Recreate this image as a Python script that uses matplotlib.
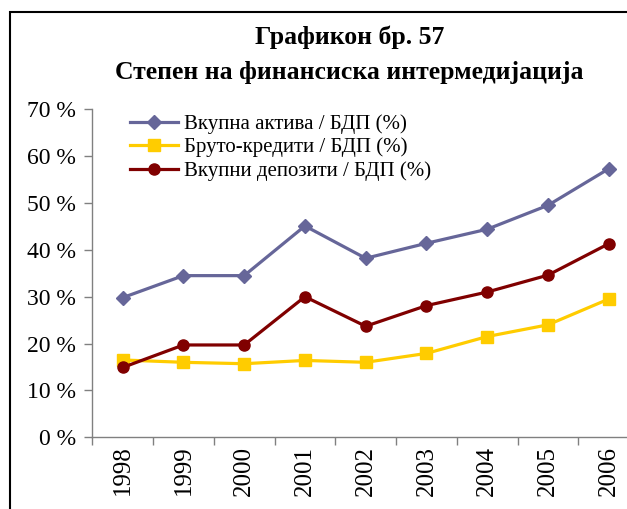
import numpy as np
import matplotlib.pyplot as plt
from matplotlib.patches import Rectangle

plt.rcParams['font.family'] = ['Liberation Serif', 'DejaVu Serif']

years = ['1998', '1999', '2000', '2001', '2002', '2003', '2004', '2005', '2006']
aktiva = [29.8, 34.5, 34.5, 45.1, 38.2, 41.4, 44.4, 49.5, 57.3]
krediti = [16.5, 16.0, 15.7, 16.4, 16.0, 17.9, 21.5, 24.0, 29.5]
depoziti = [14.9, 19.7, 19.7, 30.0, 23.7, 28.1, 31.0, 34.6, 41.3]
labels = ['Вкупна актива / БДП (%)', 'Бруто-кредити / БДП (%)',
          'Вкупни депозити / БДП (%)']

fig = plt.figure(figsize=(6.27, 5.09), dpi=100)
ax = fig.add_axes([0.1472, 0.1409, 0.872, 0.6444])

x = np.arange(len(years))
ax.plot(x, aktiva, color='#666699', lw=2.3, marker='D', ms=7.5, label=labels[0])
ax.plot(x, krediti, color='#FFCC00', lw=2.3, marker='s', ms=8, label=labels[1])
ax.plot(x, depoziti, color='#800000', lw=2.3, marker='o', ms=8, label=labels[2])

ax.set_xlim(-0.5, len(years) - 0.5)
ax.set_ylim(0, 70)
ax.set_yticks(np.arange(0, 71, 10))
ax.set_yticklabels(['%d %%' % v for v in range(0, 71, 10)], fontsize=17)
ax.set_xticks(x)
ax.set_xticklabels(years, rotation=90, fontsize=18)
ax.set_xticks(np.arange(-0.5, len(years), 1), minor=True)
ax.tick_params(axis='x', which='major', length=0, pad=6)
ax.tick_params(axis='x', which='minor', length=6, width=1, color='#808080')
ax.tick_params(axis='y', length=6, width=1, color='#808080', pad=6)
for side in ['top', 'right']:
    ax.spines[side].set_visible(False)
for side in ['left', 'bottom']:
    ax.spines[side].set_color('#808080')
    ax.spines[side].set_linewidth(1)

ax.legend(loc='upper left', bbox_to_anchor=(0.069, 0.985), frameon=False,
          fontsize=15, handlelength=2.3, handletextpad=0.3,
          borderpad=0, borderaxespad=0, labelspacing=0.18)

fig.text(0.557, 0.926, 'Графикон бр. 57', ha='center', va='center',
         fontsize=18.5, fontweight='bold')
fig.text(0.557, 0.857, 'Степен на финансиска интермедијација', ha='center',
         va='center', fontsize=18.5, fontweight='bold')

# outer frame
fig.patches.append(Rectangle((0.016, -0.1), 1.1, 1.076, transform=fig.transFigure,
                             fill=False, edgecolor='black', lw=1.5))

fig.savefig('out.png', dpi=100)
